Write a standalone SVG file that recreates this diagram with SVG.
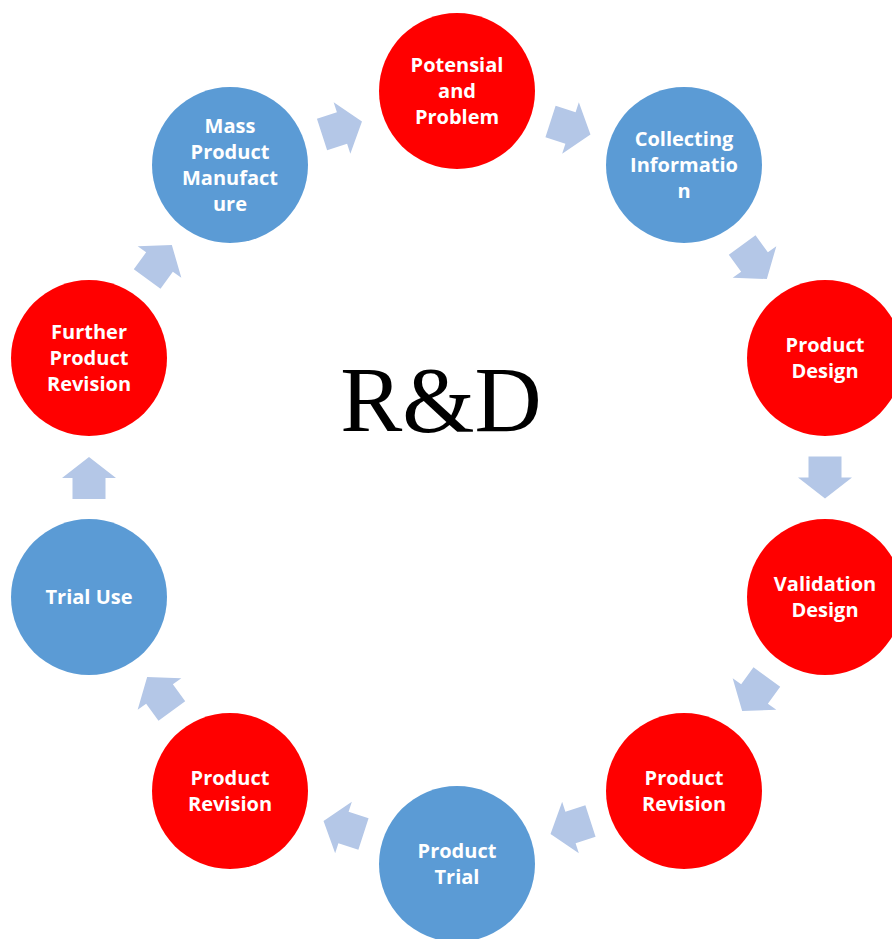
<svg xmlns="http://www.w3.org/2000/svg" width="892" height="939" viewBox="0 0 892 939">
<style>
.red{fill:#FF0000}
.blue{fill:#5B9BD5}
.lbl{font-family:"Open Sans","Liberation Sans",sans-serif;font-weight:bold;font-size:20px;fill:#FFFFFF;text-anchor:middle}
.arr{fill:#B4C7E7}
.title{font-family:"Liberation Serif","Times New Roman",serif;font-size:93px;fill:#000000;text-anchor:middle}
</style>
<defs>
<path id="arrow" d="M-21,-16.5 L0,-16.5 L0,-27 L21,0 L0,27 L0,16.5 L-21,16.5 Z"/>
</defs>
<rect width="892" height="939" fill="#FFFFFF"/>
<g id="connectors" class="arr">
<use href="#arrow" transform="translate(342,128) rotate(-18)"/>
<use href="#arrow" transform="translate(570.5,128) rotate(18)"/>
<use href="#arrow" transform="translate(754.5,262) rotate(54)"/>
<use href="#arrow" transform="translate(825,477.5) rotate(90)"/>
<use href="#arrow" transform="translate(754.5,694) rotate(126)"/>
<use href="#arrow" transform="translate(570.5,827.5) rotate(162)"/>
<use href="#arrow" transform="translate(343.5,827.5) rotate(198)"/>
<use href="#arrow" transform="translate(159.5,694) rotate(234)"/>
<use href="#arrow" transform="translate(89,478) rotate(270)"/>
<use href="#arrow" transform="translate(159.5,262) rotate(306)"/>
</g>
<g id="node-potensial">
<circle class="red" cx="457" cy="91" r="78"/>
<text class="lbl" x="457" y="72">Potensial</text>
<text class="lbl" x="457" y="98">and</text>
<text class="lbl" x="457" y="124">Problem</text>
</g>
<g id="node-collecting">
<circle class="blue" cx="684" cy="165" r="78"/>
<text class="lbl" x="684" y="146">Collecting</text>
<text class="lbl" x="684" y="172">Informatio</text>
<text class="lbl" x="684" y="198">n</text>
</g>
<g id="node-design">
<circle class="red" cx="825" cy="358" r="78"/>
<text class="lbl" x="825" y="352">Product</text>
<text class="lbl" x="825" y="378">Design</text>
</g>
<g id="node-validation">
<circle class="red" cx="825" cy="597" r="78"/>
<text class="lbl" x="825" y="591">Validation</text>
<text class="lbl" x="825" y="617">Design</text>
</g>
<g id="node-revision-right">
<circle class="red" cx="684" cy="791" r="78"/>
<text class="lbl" x="684" y="785">Product</text>
<text class="lbl" x="684" y="811">Revision</text>
</g>
<g id="node-trial">
<circle class="blue" cx="457" cy="864" r="78"/>
<text class="lbl" x="457" y="858">Product</text>
<text class="lbl" x="457" y="884">Trial</text>
</g>
<g id="node-revision-left">
<circle class="red" cx="230" cy="791" r="78"/>
<text class="lbl" x="230" y="785">Product</text>
<text class="lbl" x="230" y="811">Revision</text>
</g>
<g id="node-trial-use">
<circle class="blue" cx="89" cy="597" r="78"/>
<text class="lbl" x="89" y="604">Trial Use</text>
</g>
<g id="node-further">
<circle class="red" cx="89" cy="358" r="78"/>
<text class="lbl" x="89" y="339">Further</text>
<text class="lbl" x="89" y="365">Product</text>
<text class="lbl" x="89" y="391">Revision</text>
</g>
<g id="node-mass">
<circle class="blue" cx="230" cy="165" r="78"/>
<text class="lbl" x="230" y="133">Mass</text>
<text class="lbl" x="230" y="159">Product</text>
<text class="lbl" x="230" y="185">Manufact</text>
<text class="lbl" x="230" y="211">ure</text>
</g>
<text class="title" x="441" y="431">R&amp;D</text>
</svg>
